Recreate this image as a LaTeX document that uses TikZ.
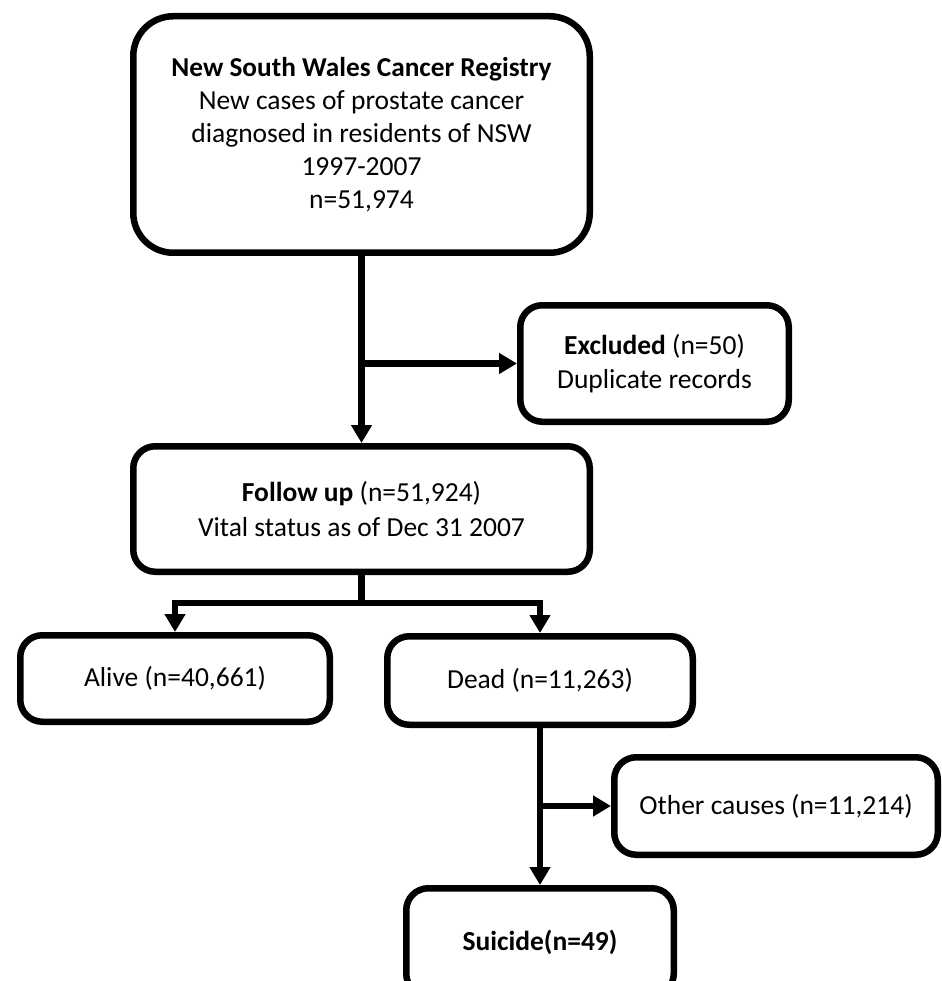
\documentclass[tikz,border=0pt]{standalone}
\usepackage{fontspec}
\setmainfont{Carlito}
\usetikzlibrary{arrows.meta}
\begin{document}
\begin{tikzpicture}[x=1pt,y=-1pt,
  box/.style={draw=black, line width=6.5pt, fill=white, rounded corners=22pt,
    align=center, inner sep=0pt, font=\fontsize{27.5}{34.5}\selectfont},
  arr/.style={line width=6.5pt, -{Triangle[width=20pt,length=18pt]}},
  ln/.style={line width=6.5pt}]
\useasboundingbox (0,0) rectangle (941,981);
\node[box, rounded corners=40pt, minimum width=456.5pt, minimum height=236.5pt,
  font=\fontsize{27.5}{33}\selectfont] (reg) at (361.5,134.5)
  {{\fontsize{27.3}{33}\selectfont\textbf{New South Wales Cancer Registry}}\\New cases of prostate cancer\\diagnosed in residents of NSW\\1997-2007\\n=51,974};
\node[box, minimum width=268.5pt, minimum height=116.5pt] (excl) at (654.5,363.5)
  {\textbf{Excluded} (n=50)\\Duplicate records};
\node[box, minimum width=456.5pt, minimum height=125.5pt] (fol) at (361.5,509)
  {\textbf{Follow up} (n=51,924)\\Vital status as of Dec 31 2007};
\node[box, minimum width=309.5pt, minimum height=86.5pt] (alive) at (175,678.5)
  {Alive (n=40,661)};
\node[box, minimum width=305.5pt, minimum height=88.5pt] (dead) at (540,680.5)
  {Dead (n=11,263)};
\node[box, minimum width=323.5pt, minimum height=97.5pt] (other) at (776,806)
  {Other causes (n=11,214)};
\node[box, minimum width=267.5pt, minimum height=107.5pt] (sui) at (540,942)
  {\textbf{Suicide(n=49)}};
\coordinate (j1) at (361.5,363.5);
\coordinate (j2) at (361.5,603);
\coordinate (j3) at (540,806);
\draw[arr] (reg.south) -- (fol.north);
\draw[arr] (j1) -- (excl.west);
\draw[ln] (fol.south) -- (j2);
\draw[arr] (j2) -| (alive.north);
\draw[arr] (j2) -| (dead.north);
\draw[arr] (dead.south) -- (sui.north);
\draw[arr] (j3) -- (other.west);
\end{tikzpicture}
\end{document}
